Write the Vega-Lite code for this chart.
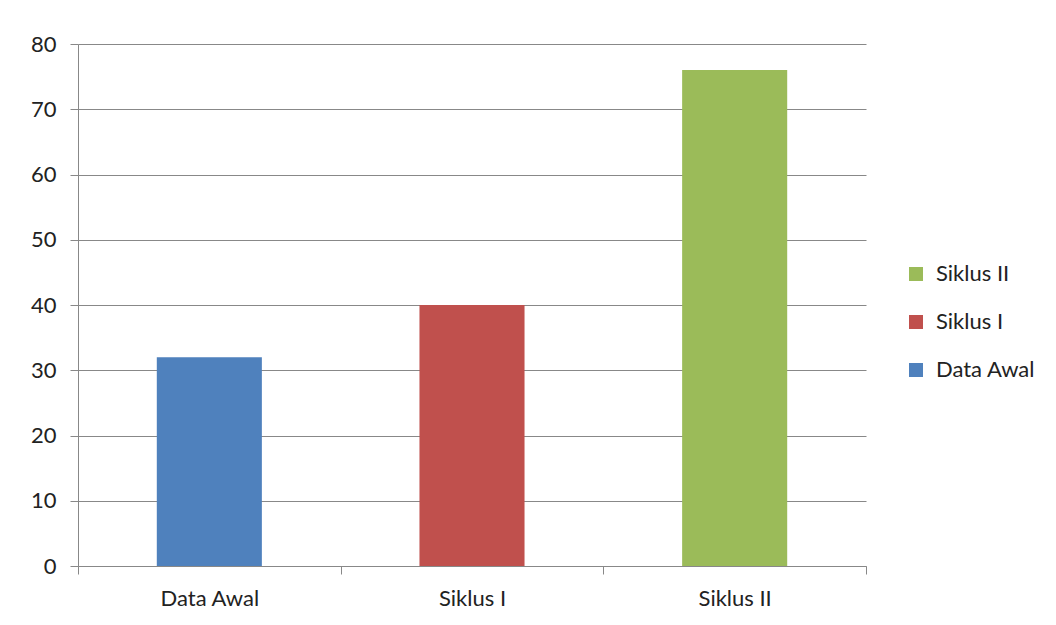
{
  "$schema": "https://vega.github.io/schema/vega-lite/v6.json",
  "width": 788,
  "height": 522,
  "autosize": "none",
  "padding": {"left": 78, "top": 44, "right": 190, "bottom": 59},
  "background": "white",
  "data": {
    "values": [
      {"tahap": "Data Awal", "nilai": 32},
      {"tahap": "Siklus I", "nilai": 40},
      {"tahap": "Siklus II", "nilai": 76}
    ]
  },
  "mark": {"type": "bar", "width": {"band": 0.4}},
  "encoding": {
    "x": {
      "field": "tahap",
      "type": "nominal",
      "sort": ["Data Awal", "Siklus I", "Siklus II"],
      "scale": {"paddingInner": 0, "paddingOuter": 0},
      "axis": {
        "title": null,
        "labelAngle": 0,
        "tickBand": "extent",
        "tickSize": 8,
        "labelPadding": 14,
        "grid": false
      }
    },
    "y": {
      "field": "nilai",
      "type": "quantitative",
      "scale": {"domain": [0, 80]},
      "axis": {
        "title": null,
        "values": [0, 10, 20, 30, 40, 50, 60, 70, 80],
        "tickSize": 8,
        "labelPadding": 14,
        "grid": true
      }
    },
    "color": {
      "field": "tahap",
      "type": "nominal",
      "scale": {
        "domain": ["Data Awal", "Siklus I", "Siklus II"],
        "range": ["#4F81BD", "#C0504D", "#9BBB59"]
      },
      "legend": {
        "title": null,
        "orient": "none",
        "legendX": 827,
        "legendY": 219,
        "values": ["Siklus II", "Siklus I", "Data Awal"],
        "symbolType": "square",
        "symbolSize": 196,
        "symbolStrokeWidth": 0,
        "symbolOpacity": 1,
        "rowPadding": 26,
        "labelOffset": 9,
        "labelFontSize": 22,
        "labelFont": "Lato",
        "labelColor": "#222222"
      }
    }
  },
  "config": {
    "view": {"stroke": null},
    "axis": {
      "domainColor": "#888888",
      "tickColor": "#888888",
      "gridColor": "#888888",
      "domainWidth": 1,
      "tickWidth": 1,
      "gridWidth": 1,
      "labelFont": "Lato",
      "labelFontSize": 22,
      "labelColor": "#222222"
    }
  }
}
